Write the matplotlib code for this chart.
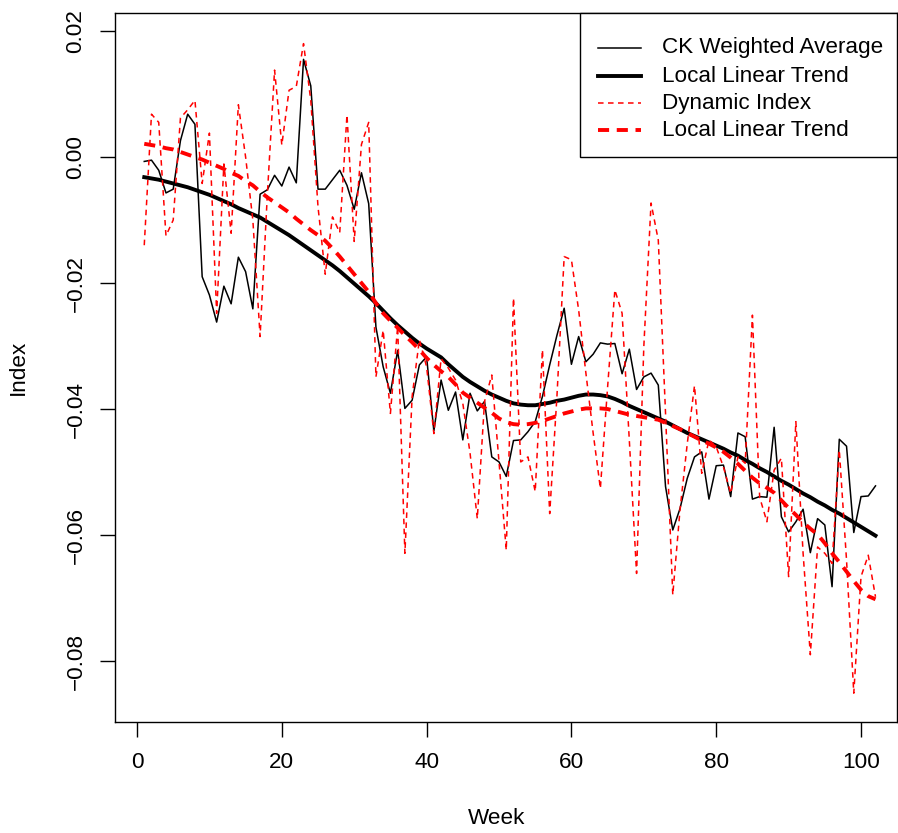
import matplotlib
matplotlib.use("Agg")
import matplotlib.pyplot as plt
from matplotlib.lines import Line2D
from matplotlib.patches import Rectangle

plt.rcParams['font.family'] = ['Liberation Sans', 'DejaVu Sans']
plt.rcParams['lines.scale_dashes'] = False

weeks = list(range(1, 103))

ck_weighted = [
    -0.0007, -0.0005, -0.0021, -0.0057, -0.0051, 0.0026, 0.0068, 0.0052, -0.0190, -0.0219,
    -0.0262, -0.0205, -0.0233, -0.0159, -0.0182, -0.0241, -0.0059, -0.0052, -0.0029, -0.0046,
    -0.0016, -0.0041, 0.0155, 0.0113, -0.0051, -0.0051, -0.0036, -0.0021, -0.0045, -0.0083,
    -0.0025, -0.0074, -0.0270, -0.0333, -0.0375, -0.0307, -0.0399, -0.0386, -0.0330, -0.0317,
    -0.0435, -0.0354, -0.0402, -0.0373, -0.0449, -0.0375, -0.0403, -0.0388, -0.0476, -0.0484,
    -0.0507, -0.0450, -0.0449, -0.0436, -0.0420, -0.0380, -0.0330, -0.0283, -0.0240, -0.0329,
    -0.0285, -0.0325, -0.0313, -0.0295, -0.0297, -0.0296, -0.0344, -0.0305, -0.0369, -0.0349,
    -0.0343, -0.0362, -0.0523, -0.0592, -0.0558, -0.0510, -0.0476, -0.0468, -0.0543, -0.0490,
    -0.0489, -0.0539, -0.0438, -0.0444, -0.0543, -0.0539, -0.0540, -0.0429, -0.0571, -0.0595,
    -0.0579, -0.0559, -0.0628, -0.0574, -0.0584, -0.0682, -0.0448, -0.0459, -0.0596, -0.0539,
    -0.0538, -0.0522]

ck_trend = [
    -0.0032, -0.0034, -0.0036, -0.0039, -0.0042, -0.0045, -0.0048, -0.0052, -0.0056, -0.0060,
    -0.0065, -0.0070, -0.0075, -0.0081, -0.0086, -0.0091, -0.0096, -0.0103, -0.0110, -0.0117,
    -0.0124, -0.0132, -0.0140, -0.0148, -0.0156, -0.0164, -0.0172, -0.0181, -0.0191, -0.0201,
    -0.0211, -0.0221, -0.0232, -0.0244, -0.0256, -0.0267, -0.0277, -0.0287, -0.0296, -0.0304,
    -0.0311, -0.0318, -0.0329, -0.0339, -0.0349, -0.0357, -0.0364, -0.0371, -0.0377, -0.0382,
    -0.0387, -0.0391, -0.0393, -0.0394, -0.0394, -0.0392, -0.0390, -0.0387, -0.0385, -0.0382,
    -0.0379, -0.0377, -0.0377, -0.0378, -0.0380, -0.0384, -0.0389, -0.0395, -0.0400, -0.0405,
    -0.0410, -0.0415, -0.0420, -0.0426, -0.0432, -0.0438, -0.0443, -0.0448, -0.0453, -0.0458,
    -0.0463, -0.0469, -0.0474, -0.0481, -0.0487, -0.0494, -0.0500, -0.0507, -0.0514, -0.0520,
    -0.0527, -0.0534, -0.0540, -0.0547, -0.0553, -0.0560, -0.0566, -0.0573, -0.0580, -0.0587,
    -0.0594, -0.0601]

dynamic_index = [
    -0.0140, 0.0068, 0.0055, -0.0125, -0.0100, 0.0062, 0.0075, 0.0090, -0.0042, 0.0038,
    -0.0248, -0.0011, -0.0121, 0.0083, 0.0000, -0.0100, -0.0285, -0.0060, 0.0138, 0.0019,
    0.0106, 0.0112, 0.0180, 0.0090, -0.0079, -0.0186, -0.0095, -0.0120, 0.0067, -0.0134,
    0.0020, 0.0055, -0.0349, -0.0275, -0.0407, -0.0269, -0.0629, -0.0380, -0.0290, -0.0333,
    -0.0439, -0.0320, -0.0335, -0.0354, -0.0391, -0.0470, -0.0574, -0.0388, -0.0346, -0.0484,
    -0.0624, -0.0224, -0.0484, -0.0476, -0.0531, -0.0306, -0.0566, -0.0380, -0.0158, -0.0163,
    -0.0243, -0.0343, -0.0438, -0.0526, -0.0365, -0.0211, -0.0248, -0.0450, -0.0661, -0.0301,
    -0.0073, -0.0132, -0.0407, -0.0695, -0.0560, -0.0455, -0.0363, -0.0502, -0.0449, -0.0460,
    -0.0492, -0.0534, -0.0476, -0.0486, -0.0251, -0.0540, -0.0579, -0.0497, -0.0478, -0.0666,
    -0.0420, -0.0629, -0.0790, -0.0619, -0.0629, -0.0645, -0.0465, -0.0640, -0.0851, -0.0666,
    -0.0632, -0.0698]

dynamic_trend = [
    0.0021, 0.0019, 0.0017, 0.0014, 0.0012, 0.0008, 0.0004, 0.0000, -0.0004, -0.0009,
    -0.0014, -0.0019, -0.0025, -0.0030, -0.0038, -0.0045, -0.0055, -0.0064, -0.0072, -0.0080,
    -0.0088, -0.0098, -0.0107, -0.0116, -0.0124, -0.0133, -0.0145, -0.0158, -0.0172, -0.0186,
    -0.0200, -0.0214, -0.0232, -0.0248, -0.0260, -0.0271, -0.0283, -0.0294, -0.0306, -0.0319,
    -0.0330, -0.0340, -0.0349, -0.0361, -0.0374, -0.0382, -0.0390, -0.0398, -0.0406, -0.0415,
    -0.0421, -0.0424, -0.0425, -0.0424, -0.0422, -0.0419, -0.0415, -0.0411, -0.0407, -0.0404,
    -0.0401, -0.0399, -0.0399, -0.0399, -0.0400, -0.0403, -0.0406, -0.0409, -0.0411, -0.0413,
    -0.0415, -0.0417, -0.0422, -0.0427, -0.0432, -0.0438, -0.0444, -0.0450, -0.0455, -0.0461,
    -0.0468, -0.0477, -0.0487, -0.0498, -0.0509, -0.0518, -0.0525, -0.0533, -0.0545, -0.0557,
    -0.0568, -0.0580, -0.0590, -0.0599, -0.0613, -0.0629, -0.0643, -0.0658, -0.0673, -0.0687,
    -0.0697, -0.0702]

legend_labels = ['CK Weighted Average', 'Local Linear Trend', 'Dynamic Index', 'Local Linear Trend']

x_ticks = [0, 20, 40, 60, 80, 100]
y_ticks = [0.02, 0.00, -0.02, -0.04, -0.06, -0.08]
y_tick_labels = ["0.02", "0.00", "\u22120.02", "\u22120.04", "\u22120.06", "\u22120.08"]

W, H = 898, 833
fig = plt.figure(figsize=(W / 100, H / 100), dpi=100)
ax = fig.add_axes([115 / W, 1 - 721.7 / H, (897 - 115) / W, (721.7 - 13) / H])

styles = [
    dict(color='black', lw=1.1),
    dict(color='black', lw=2.8),
    dict(color='red', lw=1.1, dashes=(4.0, 3.2)),
    dict(color='red', lw=2.8, dashes=(8.0, 5.5)),
]
series = [ck_weighted, ck_trend, dynamic_index, dynamic_trend]
for vals, st in zip(series, styles):
    ax.plot(weeks, vals, **st)

ax.set_xlim(-3.04, 104.97)
ax.set_ylim(-0.08963, 0.02286)

ax.set_xticks(x_ticks)
ax.set_xticklabels([str(t) for t in x_ticks])
ax.set_yticks(y_ticks)
ax.set_yticklabels(y_tick_labels)

fs = 16.2
ax.tick_params(axis='both', direction='out', length=10.5, width=1.0, labelsize=fs, color='black')
ax.tick_params(axis='x', pad=11.5)
ax.tick_params(axis='y', pad=17.5)
for lab in ax.get_yticklabels():
    lab.set_rotation(90)
    lab.set_ha('center')
    lab.set_va('center')

for s in ax.spines.values():
    s.set_linewidth(1.0)
    s.set_color('black')

fig.text(497 / W, 1 - 818 / H, 'Week', ha='center', va='center', fontsize=fs)
fig.text(18 / W, 1 - 367 / H, 'Index', ha='center', va='center', rotation=90, fontsize=fs)

# legend box (R style) in figure pixel coordinates
def fx(px):
    return px / W

def fy(py):
    return 1 - py / H

tf = fig.transFigure
ax.add_patch(Rectangle((fx(580), fy(157)), fx(897) - fx(580), fy(13) - fy(157),
                       transform=tf, facecolor='white', edgecolor='black', lw=1.0,
                       zorder=5, clip_on=False))
row_y = [48, 76, 103, 130]
for lab, st, ry in zip(legend_labels, styles, row_y):
    ln = Line2D([fx(598), fx(641)], [fy(ry), fy(ry)], transform=tf, zorder=6, **st)
    ln.set_clip_on(False)
    ax.add_line(ln)
    ax.text(fx(662), fy(ry), lab, transform=tf, ha='left', va='center',
            fontsize=fs, zorder=7)

fig.savefig('out.png', dpi=100)
